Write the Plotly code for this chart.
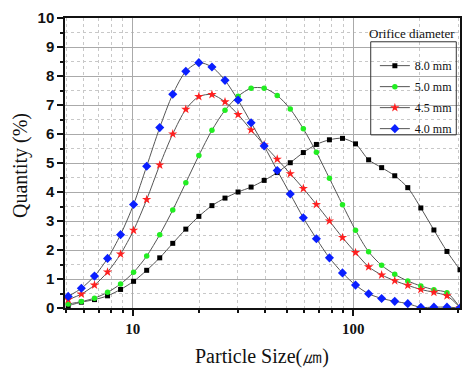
import plotly.graph_objects as go

# Particle size (um) - sample bins
particle_size = [5.1, 5.85, 6.71, 7.69, 8.81, 10.09, 11.57, 13.26, 15.19, 17.41, 19.95,
                 22.87, 26.21, 30.04, 34.42, 39.45, 45.21, 51.81, 59.38, 68.05, 77.98,
                 89.37, 102.4, 117.4, 134.5, 154.2, 176.7, 202.5, 232.1, 266.0, 304.8]

q_8_0 = [0.08, 0.20, 0.29, 0.42, 0.64, 0.92, 1.30, 1.73, 2.23, 2.72, 3.16, 3.53, 3.79, 4.00,
         4.17, 4.40, 4.67, 5.01, 5.36, 5.64, 5.80, 5.85, 5.66, 5.11, 4.84, 4.56, 4.15, 3.45,
         2.69, 1.95, 1.32]
q_5_0 = [0.14, 0.22, 0.34, 0.54, 0.83, 1.23, 1.79, 2.53, 3.38, 4.32, 5.26, 6.13, 6.82, 7.30,
         7.58, 7.58, 7.33, 6.86, 6.18, 5.37, 4.47, 3.56, 2.68, 1.94, 1.47, 1.16, 0.93, 0.76,
         0.63, 0.53, 0.02]
q_4_5 = [0.29, 0.48, 0.79, 1.24, 1.86, 2.68, 3.74, 4.93, 6.00, 6.85, 7.29, 7.36, 7.11, 6.67,
         6.14, 5.62, 5.13, 4.63, 4.12, 3.57, 3.00, 2.43, 1.91, 1.42, 1.14, 0.94, 0.78, 0.64,
         0.54, 0.42, 0.02]
q_4_0 = [0.40, 0.68, 1.10, 1.71, 2.53, 3.57, 4.89, 6.22, 7.37, 8.16, 8.46, 8.31, 7.85, 7.17,
         6.39, 5.59, 4.74, 3.93, 3.11, 2.39, 1.73, 1.21, 0.79, 0.49, 0.33, 0.23, 0.15, 0.02,
         0.03, 0.03, 0.0]

series_names = ["8.0 mm", "5.0 mm", "4.5 mm", "4.0 mm"]
series_values = [q_8_0, q_5_0, q_4_5, q_4_0]
marker_colors = ["#000000", "#22ee22", "#ff2020", "#0a1fff"]
marker_symbols = ["square", "circle", "star", "diamond"]
marker_sizes = [5, 5.5, 7, 7]

x_tick_vals = [10, 100]
x_tick_text = ["10", "100"]
x_minor_vals = [5, 6, 7, 8, 9, 20, 30, 40, 50, 60, 70, 80, 90, 200, 300]

fig = go.Figure()
for name, vals, col, sym, sz in zip(series_names, series_values, marker_colors,
                                    marker_symbols, marker_sizes):
    fig.add_trace(go.Scatter(
        x=particle_size, y=vals, name=name, mode="lines+markers",
        legendgroup=name,
        line=dict(color="#555555", width=1, shape="spline", smoothing=0.8),
        marker=dict(color=col, symbol=sym, size=sz, line=dict(width=0)),
    ))

serif = "Liberation Serif, Times New Roman, serif"
sans = "Liberation Sans, Arial, sans-serif"

fig.update_layout(
    width=468, height=376,
    margin=dict(l=65, r=8, t=18, b=68, autoexpand=False),
    paper_bgcolor="white", plot_bgcolor="white",
    showlegend=True,
    legend=dict(
        x=0.801, y=0.864, xref="container", yref="container",
        xanchor="left", yanchor="top",
        bgcolor="rgba(0,0,0,0)", borderwidth=0,
        font=dict(family=serif, size=12, color="#111"),
        traceorder="grouped", tracegroupgap=2,
    ),
    xaxis=dict(
        type="log", range=[0.693, 2.484],
        tickmode="array", tickvals=x_tick_vals, ticktext=x_tick_text,
        tickfont=dict(family=serif, size=15, color="#111", weight="bold"),
        ticks="outside", ticklen=6, tickwidth=1.5, tickcolor="#111",
        showline=True, linecolor="#111", linewidth=1.5, mirror=True,
        showgrid=True, gridcolor="#aaaaaa", gridwidth=1,
        zeroline=False,
        minor=dict(tickmode="array", tickvals=x_minor_vals, ticks="outside",
                   ticklen=3, tickcolor="#111", showgrid=True,
                   gridcolor="#c8c8c8", griddash="dot", gridwidth=1),
    ),
    yaxis=dict(
        range=[0, 10], dtick=1,
        tickfont=dict(family=sans, size=15, color="#111", weight="bold"),
        ticks="outside", ticklen=6, tickwidth=1.5, tickcolor="#111",
        showline=True, linecolor="#111", linewidth=1.5, mirror=True,
        showgrid=True, gridcolor="#aaaaaa", gridwidth=1,
        zeroline=False,
        minor=dict(dtick=0.5, ticks="outside", ticklen=3, tickcolor="#111",
                   showgrid=True, gridcolor="#c8c8c8", griddash="dot", gridwidth=1),
    ),
    shapes=[dict(type="rect", xref="paper", yref="paper",
                 x0=0.774, x1=0.9906, y0=0.597, y1=0.918,
                 line=dict(color="#333", width=1), fillcolor="rgba(0,0,0,0)")],
    annotations=[
        dict(text="Orifice diameter", xref="paper", yref="paper", x=0.878, y=0.948,
             xanchor="center", yanchor="middle", showarrow=False,
             font=dict(family=serif, size=13, color="#111")),
        dict(text="Quantity (%)", xref="paper", yref="paper", x=-0.114, y=0.493,
             xanchor="center", yanchor="middle", textangle=-90, showarrow=False,
             font=dict(family=serif, size=20, color="#111")),
        dict(text="Particle Size(㎛)", xref="paper", yref="paper", x=0.499, y=-0.166,
             xanchor="center", yanchor="middle", showarrow=False,
             font=dict(family=serif, size=20, color="#111")),
    ],
)

fig.write_html("out.html", config={"displayModeBar": False})

# remove default browser body margin so the figure sits at the window origin
with open("out.html", "r", encoding="utf-8") as f:
    html = f.read()
html = html.replace("<head>", "<head><style>html,body{margin:0;padding:0;overflow:hidden;}</style>", 1)
with open("out.html", "w", encoding="utf-8") as f:
    f.write(html)
